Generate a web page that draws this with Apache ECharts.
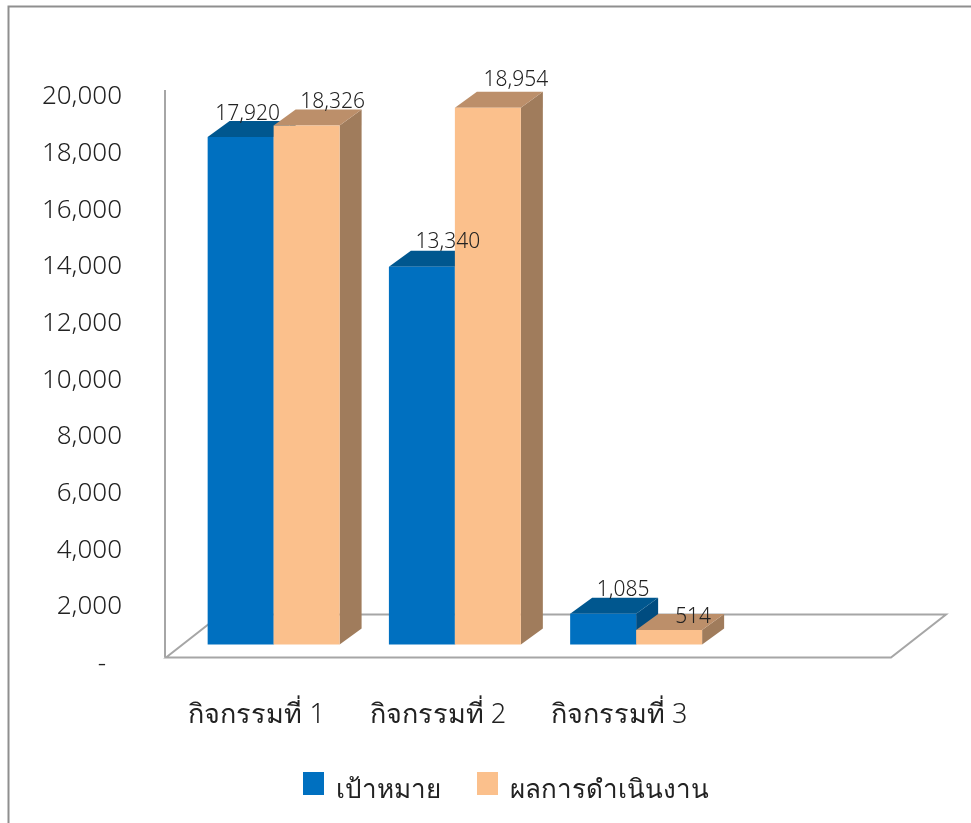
<!DOCTYPE html>
<html>
<head>
<meta charset="utf-8">
<style>html,body{margin:0;padding:0;background:#fff}#c{width:971px;height:823px}</style>
<script src="https://cdn.jsdelivr.net/npm/echarts@6/dist/echarts.min.js"></script>
</head>
<body>
<div id="c"></div>
<script>
const categories = ['กิจกรรมที่ 1', 'กิจกรรมที่ 2', 'กิจกรรมที่ 3', ''];
const seriesNames = ['เป้าหมาย', 'ผลการดำเนินงาน'];
const targetValues = [17920, 13340, 1085];
const resultValues = [18326, 18954, 514];

const FONT = '"Noto Sans", "Open Sans", sans-serif';
const INK = '#222222';
const DEPTH_X = 22, DEPTH_Y = 16, BASE_X = 17, BASE_Y = 16;
const targetNudge = [[7, -23], [26, -25], [20, -24]];
const resultNudge = [[26, -23], [28, -28], [24, -13]];

function fmt(v) { return v.toString().replace(/\B(?=(\d{3})+$)/g, ','); }

function frontBox(idx, val, side, api) {
  const w = api.size([1, 0])[0] * 0.364;
  const top = api.coord([idx, val]), base = api.coord([idx, 0]);
  const x0 = top[0] + BASE_X + (side < 0 ? -w : 0);
  return { x0, x1: x0 + w, w, yT: top[1] - BASE_Y, yB: base[1] - BASE_Y };
}

function barRenderer(side, colors) {
  return function (params, api) {
    const b = frontBox(api.value(0), api.value(1), side, api);
    return {
      type: 'group',
      children: [
        { type: 'polygon', shape: { points: [[b.x1, b.yT], [b.x1 + DEPTH_X, b.yT - DEPTH_Y], [b.x1 + DEPTH_X, b.yB - DEPTH_Y], [b.x1, b.yB]] }, style: { fill: colors[2] } },
        { type: 'polygon', shape: { points: [[b.x0, b.yT], [b.x0 + DEPTH_X, b.yT - DEPTH_Y], [b.x1 + DEPTH_X, b.yT - DEPTH_Y], [b.x1, b.yT]] }, style: { fill: colors[1] } },
        { type: 'rect', shape: { x: b.x0, y: b.yT, width: b.w, height: b.yB - b.yT }, style: { fill: colors[0] } }
      ]
    };
  };
}

function labelRenderer(side, nudge) {
  return function (params, api) {
    const val = api.value(1);
    const b = frontBox(api.value(0), val, side, api);
    const n = nudge[params.dataIndex];
    return { type: 'text', style: { text: fmt(val), x: (b.x0 + b.x1) / 2 + n[0], y: b.yT + n[1], align: 'center', verticalAlign: 'middle', fill: INK, font: '300 21px ' + FONT } };
  };
}

function floorRenderer(params) {
  const c = params.coordSys;
  const gray = '#a6a6a6', bottom = c.y + c.height - 3, dx = 55, dy = 43, r = c.x + c.width;
  const line = { stroke: gray, lineWidth: 2, fill: 'none' };
  return {
    type: 'group',
    children: [
      { type: 'polygon', shape: { points: [[c.x, bottom], [c.x + dx, bottom - dy], [r + dx, bottom - dy], [r, bottom]] }, style: line },
      { type: 'line', shape: { x1: c.x - 1, y1: c.y - 4, x2: c.x - 1, y2: bottom }, style: { stroke: gray, lineWidth: 2 } }
    ]
  };
}

const targetData = targetValues.map((v, i) => [i, v]);
const resultData = resultValues.map((v, i) => [i, v]);

const chart = echarts.init(document.getElementById('c'), null, { renderer: 'canvas' });
chart.setOption({
  animation: false,
  backgroundColor: '#fff',
  textStyle: { fontFamily: FONT },
  graphic: [{ type: 'polyline', silent: true, shape: { points: [[8.5, 830], [8.5, 6.5], [980, 6.5]] }, style: { stroke: '#8f8f8f', lineWidth: 2, fill: 'none' } }],
  grid: { left: 166, top: 94, width: 725, height: 566.5 },
  legend: {
    left: 298, top: 767, icon: 'rect', itemWidth: 21, itemHeight: 23, itemGap: 36,
    data: seriesNames,
    formatter: '{t|{name}}',
    textStyle: {
      rich: { t: { fontSize: 26, fontWeight: 300, color: INK, fontFamily: FONT, padding: [14, 0, 0, 7] } }
    }
  },
  xAxis: {
    type: 'category', data: categories,
    axisLine: { show: false }, axisTick: { show: false }, splitLine: { show: false },
    axisLabel: { interval: 0, margin: 41, fontSize: 27, fontWeight: 300, color: INK, fontFamily: FONT }
  },
  yAxis: {
    type: 'value', min: 0, max: 20000, interval: 2000,
    axisLine: { show: false }, axisTick: { show: false }, splitLine: { show: false },
    axisLabel: {
      margin: 44, fontSize: 26, fontWeight: 300, color: INK, fontFamily: FONT, padding: [6, 0, 0, 0],
      formatter: v => v === 0 ? '{d|-}' : fmt(v),
      rich: { d: { fontSize: 26, fontWeight: 300, color: INK, padding: [2, 16, 0, 0] } }
    }
  },
  series: [
    { type: 'custom', silent: true, z: 1, data: [[0, 0]], encode: { x: 0, y: 1 }, renderItem: floorRenderer },
    { type: 'custom', name: seriesNames[0], z: 2, itemStyle: { color: '#0070C0' }, data: targetData, encode: { x: 0, y: 1 },
      renderItem: barRenderer(-1, ['#0070C0', '#00578F', '#004C80']) },
    { type: 'custom', name: seriesNames[1], z: 3, itemStyle: { color: '#FBC08C' }, data: resultData, encode: { x: 0, y: 1 },
      renderItem: barRenderer(1, ['#FBC08C', '#BC8F6A', '#A07C5C']) },
    { type: 'custom', silent: true, z: 4, data: targetData, encode: { x: 0, y: 1 }, renderItem: labelRenderer(-1, targetNudge) },
    { type: 'custom', silent: true, z: 4, data: resultData, encode: { x: 0, y: 1 }, renderItem: labelRenderer(1, resultNudge) }
  ]
});
</script>
</body>
</html>
